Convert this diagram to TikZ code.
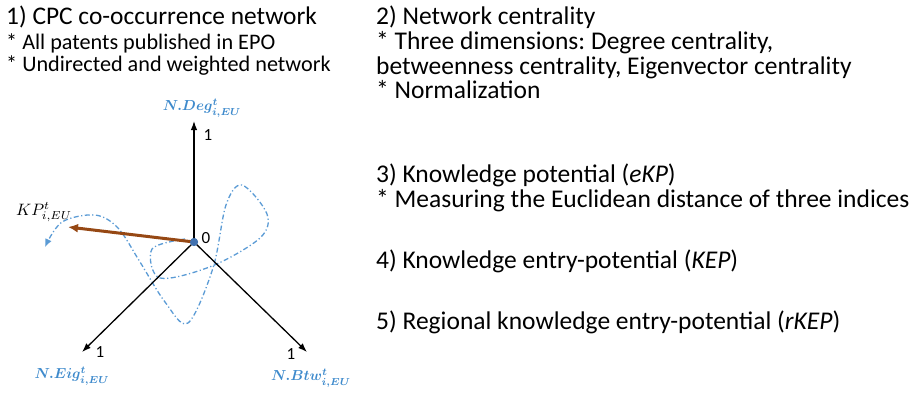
\documentclass[tikz,border=0pt]{standalone}
\usepackage{fontspec}
\setmainfont{Carlito}
\usetikzlibrary{arrows.meta}
\definecolor{curveblue}{RGB}{91,155,213}
\definecolor{labelblue}{RGB}{62,138,204}
\definecolor{kpbrown}{RGB}{150,72,20}
\definecolor{dotblue}{RGB}{65,113,175}
\frenchspacing

\begin{document}
\begin{tikzpicture}[x=1pt,y=-1pt,
  head/.style={anchor=base west, inner sep=0pt, font=\fontsize{25.4}{28}\selectfont},
  bullet/.style={anchor=base west, inner sep=0pt, font=\fontsize{22.2}{25}\selectfont},
  body/.style={anchor=base west, inner sep=0pt, font=\fontsize{25.5}{28}\selectfont},
  axis/.style={line width=1.3pt, -{Latex[length=9pt,width=6.5pt]}},
  kparrow/.style={draw=kpbrown, line width=3pt, -{Latex[length=10pt,width=9pt]}},
  pathcurve/.style={draw=curveblue, line width=1.3pt,
    dash pattern=on 5pt off 2.5pt on 1.2pt off 2.5pt,
    -{Latex[length=8pt,width=7pt]}},
  tick/.style={inner sep=0pt, font=\fontsize{17}{19}\selectfont},
  axlabel/.style={inner sep=0pt, text=labelblue, font=\boldmath},
]
\useasboundingbox (0,0) rectangle (921,396);

% left column: network description
\node[head]   (h1)  at (6,25) {1) CPC co-occurrence network};
\node[bullet] (b1a) at (6,49) {* All patents published in EPO};
\node[bullet] (b1b) at (6,72) {* Undirected and weighted network};

% right column: steps 2--5
\node[body] (h2)  at (376,25)   {2) Network centrality};
\node[body] (b2a) at (376,50)   {* Three dimensions: Degree centrality,};
\node[body] (b2b) at (376,74.5) {betweenness centrality, Eigenvector centrality};
\node[body] (b2c) at (376,99)   {* Normalization};
\node[body] (h3)  at (376,182)  {3) Knowledge potential (\textit{eKP})};
\node[body] (b3a) at (376,207)  {* Measuring the Euclidean distance of three indices};
\node[body] (h4)  at (376,268)  {4) Knowledge entry-potential (\textit{KEP})};
\node[body] (h5)  at (376,329)  {5) Regional knowledge entry-potential (\textit{rKEP})};

% three-axis centrality space
\coordinate (degtip) at (194,121);
\coordinate (eigtip) at (82,352);
\coordinate (btwtip) at (307,352);
\coordinate (kptip)  at (68,227);

\draw[pathcurve] plot[smooth, tension=0.55] coordinates {
  (185,239) (152,249) (160,278) (212,266) (260,238) (267,214) (242,185)
  (226,205) (213,268) (188,323) (165,302) (140,262) (118,228) (95,215)
  (62,222) (45,247)};

\node[circle, fill=dotblue, inner sep=0pt, minimum size=8pt] (origin) at (194,242) {};

\draw[axis] (origin.center) -- (degtip);
\draw[axis] (origin.center) -- (eigtip);
\draw[axis] (origin.center) -- (btwtip);
\draw[kparrow] (origin.center) -- (kptip);
\node[circle, fill=dotblue, inner sep=0pt, minimum size=8pt] at (origin) {};

\node[tick] (zero) at (206,238) {0};
\node[tick] (one1) at (208,135) {1};
\node[tick] (one2) at (100,352) {1};
\node[tick] (one3) at (291,354) {1};

\node[axlabel] (deg) at (202,108) {\scalebox{1.45}{$N.Deg^{t}_{i,EU}$}};
\node[axlabel] (eig) at (72,376)  {\scalebox{1.45}{$N.Eig^{t}_{i,EU}$}};
\node[axlabel] (btw) at (311,378) {\scalebox{1.45}{$N.Btw^{t}_{i,EU}$}};
\node[inner sep=0pt] (kp) at (44,212) {\scalebox{1.65}{$KP^{t}_{i,EU}$}};
\end{tikzpicture}
\end{document}
